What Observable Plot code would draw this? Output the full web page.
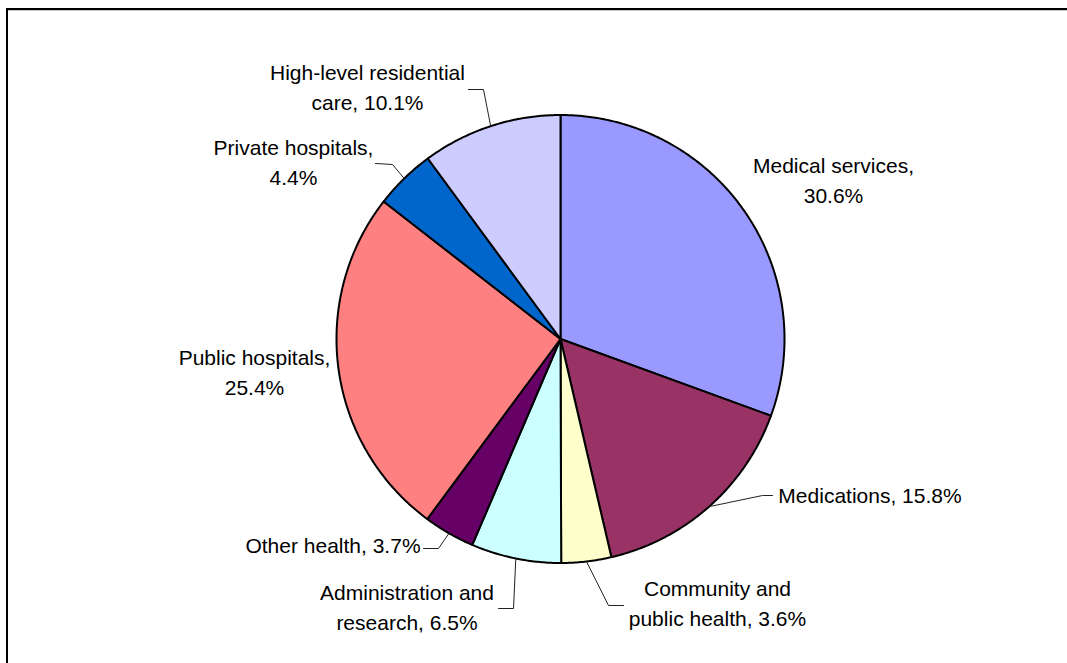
<!DOCTYPE html>
<html><head><meta charset="utf-8">
<script src="https://cdn.jsdelivr.net/npm/d3@7"></script>
<script src="https://cdn.jsdelivr.net/npm/@observablehq/plot@0.6"></script>
<style>
html,body{margin:0;padding:0;background:#fff;overflow:hidden;width:1067px;height:663px}
#chart{position:absolute;left:0;top:0}
#frame{position:absolute;left:6px;top:8px;width:1200px;height:800px;border-top:2px solid #000;border-left:2px solid #000;}
#frameShade{position:absolute;left:8px;top:10px;width:1200px;height:1px;background:#c8c8c8}
</style></head><body>
<div id="chart"></div><div id="frame"></div><div id="frameShade"></div>
<script>
// ---- data ----
const categories = ["Medical services","Medications","Community and public health","Administration and research","Other health","Public hospitals","Private hospitals","High-level residential care"];
const shares = [30.6, 15.8, 3.6, 6.5, 3.7, 25.4, 4.4, 10.1];
const sliceColors = ["#9999FF","#993366","#FFFFCC","#CCFFFF","#660066","#FF8080","#0066CC","#CCCCFF"];
// how each label wraps: "value" = break before the value, "none" = one line, otherwise break before this word
const labelWrap = ["value","none","public","research","none","value","value","care"];

// ---- layout (page pixels) ----
const W = 1067, H = 663;
const cx = 560, cy = 338.5, R = 224;
const labelPos = [[833,178],[869.5,493],[717,601],[406.5,605],[332.5,543.5],[254,370],[293,160],[367,85]];
const leaderElbow = [null,[762,495],[608,605],[513,608],[438,548],null,[392,164],[483,89]];
const leaderEnd   = [null,[772,495],[623,605],[498,608],[423,548],null,[375,163],[468,89]];

const arcs = d3.pie().sort(null).value(d => d)(shares);

const slicePts = [];
arcs.forEach((a, i) => {
  const name = categories[i];
  slicePts.push({name, x: 0, y: 0});
  const n = Math.max(2, Math.ceil((a.endAngle - a.startAngle) / (Math.PI / 360)));
  for (let k = 0; k <= n; k++) {
    const t = a.startAngle + (a.endAngle - a.startAngle) * k / n;
    slicePts.push({name, x: R * Math.sin(t), y: -R * Math.cos(t)});
  }
});

const leaderPts = [];
arcs.forEach((a, i) => {
  if (!leaderElbow[i]) return;
  const name = categories[i];
  const m = (a.startAngle + a.endAngle) / 2;
  leaderPts.push({name, x: R * Math.sin(m), y: -R * Math.cos(m)});
  leaderPts.push({name, x: leaderElbow[i][0] - cx, y: leaderElbow[i][1] - cy});
  leaderPts.push({name, x: leaderEnd[i][0] - cx, y: leaderEnd[i][1] - cy});
});

const labels = categories.map((name, i) => {
  const pct = shares[i].toFixed(1) + "%";
  let text;
  const w = labelWrap[i];
  if (w === "value") text = name + ",\n" + pct;
  else if (w === "none") text = name + ", " + pct;
  else text = name.replace(" " + w, "\n" + w) + ", " + pct;
  return {text, x: labelPos[i][0] - cx, y: labelPos[i][1] - cy};
});

const chart = Plot.plot({
  width: W, height: H, margin: 0,
  style: {background: "transparent"},
  x: {domain: [-cx, W - cx], range: [0, W], axis: null},
  y: {domain: [-cy, H - cy], range: [0, H], axis: null},
  color: {domain: categories, range: sliceColors},
  marks: [
    Plot.line(slicePts, {x: "x", y: "y", z: "name", fill: "name", stroke: "#000", strokeWidth: 2, curve: "linear-closed", strokeLinejoin: "round"}),
    Plot.line(leaderPts, {x: "x", y: "y", z: "name", stroke: "#222", strokeWidth: 1}),
    Plot.text(labels, {x: "x", y: "y", text: "text", fontSize: 21, lineHeight: 1.4, lineAnchor: "middle", textAnchor: "middle", fill: "#000", fontFamily: "'Liberation Sans', Arial, sans-serif"})
  ]
});
document.getElementById("chart").appendChild(chart);
</script>
</body></html>
